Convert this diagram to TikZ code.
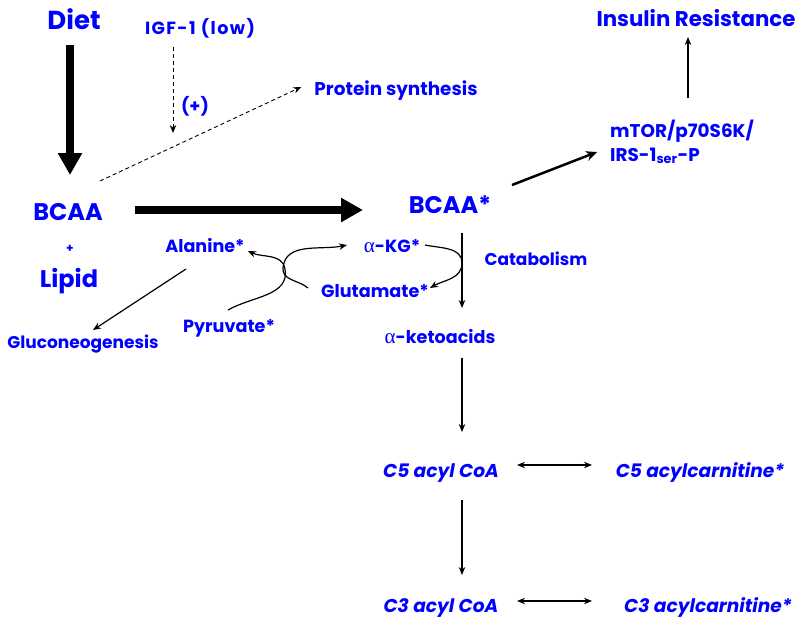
\documentclass[tikz,border=0pt]{standalone}
\usepackage{fontspec}
\setmainfont{Poppins}
\newfontfamily\greekfont{Liberation Serif}
\usetikzlibrary{arrows.meta}
\definecolor{txtblue}{RGB}{0,0,255}
\newcommand{\alphachar}{{\greekfont\mdseries\fontsize{21}{21}\selectfont α}}
\begin{document}
\begin{tikzpicture}[x=1pt,y=-1pt,
  lbl/.style={text=txtblue,font=\bfseries\fontsize{17.6}{24}\selectfont,inner sep=0pt,anchor=base},
  big/.style={lbl,font=\bfseries\fontsize{24}{26}\selectfont},
  mid/.style={lbl,font=\bfseries\fontsize{21.3}{22}\selectfont},
  ital/.style={lbl,font=\bfseries\itshape\fontsize{18.6}{20}\selectfont},
  arr/.style={-{Stealth[length=8pt,width=6.5pt]},line width=1.2pt},
  dbl/.style={{Stealth[length=8pt,width=6.5pt]}-{Stealth[length=8pt,width=6.5pt]},line width=1.2pt},
  dash arr/.style={-{Stealth[length=8pt,width=6.5pt]},line width=0.9pt,dash pattern=on 4pt off 3pt},
  heavy/.style={-{Triangle[length=22pt,width=23pt]},line width=7.5pt},
  medarr/.style={-{Stealth[length=11pt,width=10pt]},line width=2.5pt}]
\useasboundingbox (0,0) rectangle (800,626);
% nodes
\node[big,font=\bfseries\fontsize{26}{28}\selectfont] (diet) at (74,30) {Diet};
\node[lbl] (igf) at (200,35) {\addfontfeature{LetterSpace=8}IGF-1 (low)};
\node[lbl] (plusmark) at (195,112) {(+)};
\node[lbl,font=\bfseries\fontsize{18.4}{24}\selectfont] (prot) at (396,95) {Protein synthesis};
\node[mid] (ins) at (696,27) {Insulin Resistance};
\node[lbl,anchor=west,align=left,font=\bfseries\fontsize{18.4}{24}\selectfont] (mtor) at (610,142) {mTOR/p70S6K/\\IRS-1\textsubscript{ser}-P};
\node[big] (bcaa) at (68,220) {BCAA};
\node[lbl,font=\bfseries\fontsize{12}{12}\selectfont] (plus) at (70,252) {+};
\node[big] (lipid) at (69,287) {Lipid};
\node[big] (bcaas) at (450,213) {BCAA*};
\node[lbl] (ala) at (205,252) {Alanine*};
\node[lbl] (akg) at (392,252) {\alphachar-KG*};
\node[lbl] (glu) at (375,297) {Glutamate*};
\node[lbl,font=\bfseries\fontsize{17}{24}\selectfont] (cat) at (536,265) {Catabolism};
\node[lbl] (pyr) at (229,332) {Pyruvate*};
\node[lbl,font=\bfseries\fontsize{17}{24}\selectfont] (gluco) at (83,348) {Gluconeogenesis};
\node[lbl] (aketo) at (440,343) {\alphachar-ketoacids};
\node[ital] (c5) at (441,477) {C5 acyl CoA};
\node[ital] (c5c) at (700,477) {C5 acylcarnitine*};
\node[ital] (c3) at (441,612) {C3 acyl CoA};
\node[ital] (c3c) at (708,612) {C3 acylcarnitine*};
\coordinate (igfend) at (173,133);
% connectors
\draw[heavy] ([xshift=-4pt,yshift=-15pt]diet.base) -- ([xshift=2pt,yshift=45pt]bcaa.base);
\draw[dash arr] ([xshift=-27pt,yshift=-12pt]igf.base) -- (igfend);
\draw[dash arr] ([xshift=32pt,yshift=39pt]bcaa.base) -- ([xshift=-13pt,yshift=8pt]prot.base west);
\draw[heavy] ([xshift=67pt,yshift=10pt]bcaa.base) -- ([xshift=-87pt,yshift=3pt]bcaas.base);
\draw[medarr] ([xshift=62pt,yshift=28pt]bcaas.base) -- ([xshift=-13pt,yshift=-10pt]mtor.west);
\draw[arr] ([xshift=-8pt,yshift=-71pt]ins.base) -- ([xshift=-8pt,yshift=-10pt]ins.base);
\draw[arr] ([xshift=-19pt,yshift=-17pt]ala.base) -- ([xshift=10pt,yshift=18pt]gluco.base);
\draw[arr] ([xshift=-1pt,yshift=22pt]pyr.base) to[out=30,in=-80] (285,269) to[out=100,in=-25] ([xshift=43pt,yshift=1pt]ala.base);
\draw[arr] ([xshift=-67pt,yshift=9pt]glu.base) to[out=140,in=-95] (283,268) to[out=85,in=192] ([xshift=-45pt,yshift=7pt]akg.base);
\draw[arr] ([xshift=33pt,yshift=7pt]akg.base) to[out=-12,in=90] (462,263) to[out=-90,in=30] ([xshift=55pt,yshift=9pt]glu.base);
\draw[arr] ([xshift=12pt,yshift=-20pt]bcaas.base) -- ([xshift=22pt,yshift=35pt]aketo.base);
\draw[arr] ([xshift=22pt,yshift=-15pt]aketo.base) -- ([xshift=21pt,yshift=45pt]c5.base);
\draw[arr] ([xshift=21pt,yshift=-23pt]c5.base) -- ([xshift=21pt,yshift=37pt]c3.base);
\draw[dbl] ([xshift=76pt,yshift=12pt]c5.base) -- ([xshift=-108pt,yshift=12pt]c5c.base);
\draw[dbl] ([xshift=76pt,yshift=11pt]c3.base) -- ([xshift=-116pt,yshift=11pt]c3c.base);
\end{tikzpicture}
\end{document}
